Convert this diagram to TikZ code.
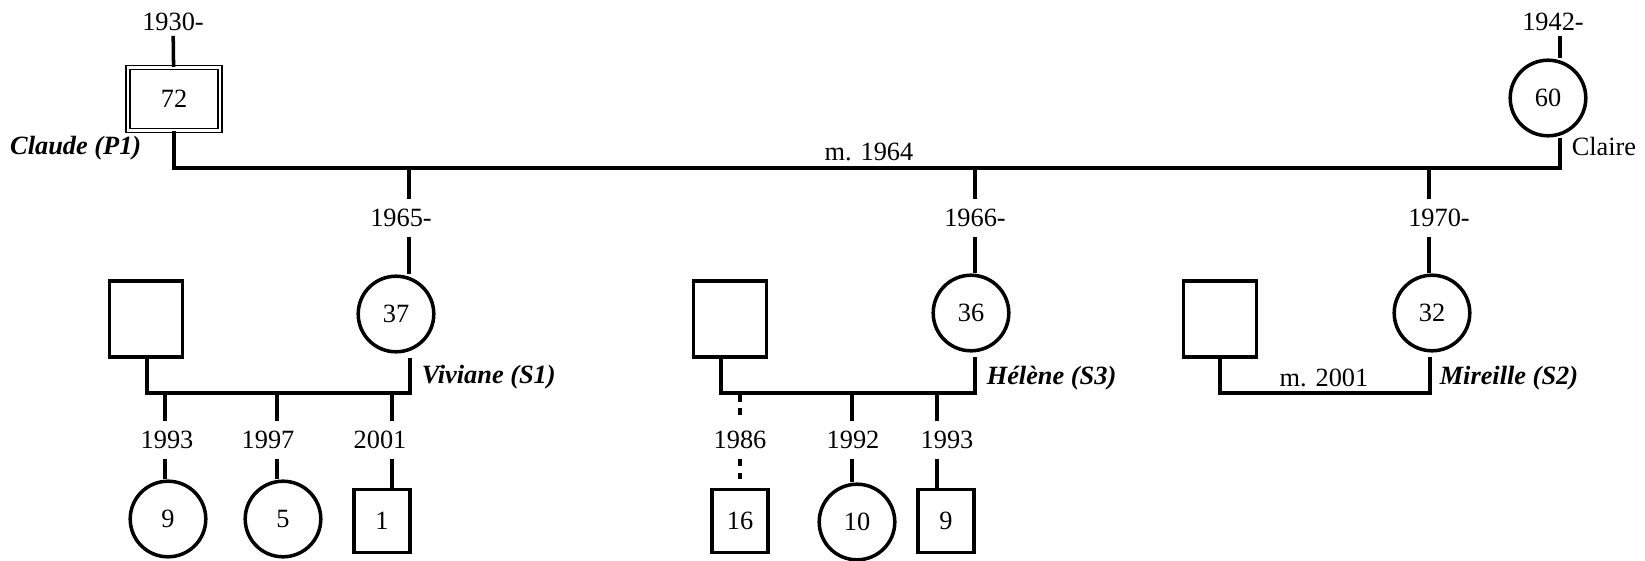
\documentclass[tikz,border=0pt]{standalone}
\usepackage{fontspec}
\setmainfont{Liberation Serif}
\usetikzlibrary{positioning}

\begin{document}
\begin{tikzpicture}[x=0.016cm, y=-0.016cm, line width=1.6pt,
  every node/.style={font=\fontsize{12}{14}\selectfont},
  female/.style={draw, circle, minimum size=1.21cm, inner sep=0pt},
  male/.style={draw, rectangle, minimum width=1.17cm, minimum height=1.22cm, inner sep=0pt},
  boy/.style={draw, rectangle, minimum width=0.89cm, minimum height=1.01cm, inner sep=0pt},
  yr/.style={inner sep=4pt},
  who/.style={font=\fontsize{12}{14}\selectfont\bfseries\itshape, inner sep=0pt}]
\useasboundingbox (0,0) rectangle (1645,560);
% first generation: Claude and Claire
\node[draw, double, double distance=1.2pt, line width=0.6pt, minimum width=1.47cm, minimum height=1.01cm] (claude) at (174,99) {72};
\node[female] (claire) at (1548,98) {60};
\node[inner sep=1.5pt] (b1930) at (173,22) {1930-};
\node[inner sep=1.5pt] (b1942) at (1553,22) {1942-};
\node[who, anchor=east] (nclaude) at (143,148) {Claude (P1)};
\node[anchor=west, inner sep=0pt] (nclaire) at (1570,146) {Claire};
\node (m1964) at (869,152) {m. 1964};
\coordinate (pl) at (174,168);
\coordinate (pr) at (1560,168);
\draw (b1930) -- (claude);
\draw (b1942.south -| pr) -- (claire.north -| pr);
\draw (claude.south) -- (pl) -- (pr) -- (claire.south -| pr);
% second generation: the three daughters
\node[female] (viviane) at (396,314) {37};
\node[female] (helene) at (971,313) {36};
\node[female] (mireille) at (1432,313) {32};
\node[yr] (b1965) at (401,218) {1965-};
\node[yr] (b1966) at (975,218) {1966-};
\node[yr] (b1970) at (1439,218) {1970-};
\foreach \b/\k/\x in {b1965/viviane/409, b1966/helene/975, b1970/mireille/1429}{
  \draw (\x,168) -- (\b.north -| \x,0);
  \draw (\b.south -| \x,0) -- (\k.north -| \x,0);
}
% their husbands
\node[male] (hv) at (146,319) {};
\node[male] (hh) at (730,319) {};
\node[male] (hm) at (1220,319) {};
\coordinate (fvl) at (147,393);
\coordinate (fvr) at (410,393);
\coordinate (fhl) at (721,393);
\coordinate (fhr) at (975,393);
\coordinate (fml) at (1220,393);
\coordinate (fmr) at (1430,393);
\draw[shorten >=2pt] (hv.south -| fvl) -- (fvl) -- (fvr) -- (viviane.south -| fvr);
\draw[shorten >=2pt] (hh.south -| fhl) -- (fhl) -- (fhr) -- (helene.south -| fhr);
\draw[shorten >=2pt] (hm.south -| fml) -- (fml) -- (fmr) -- (mireille.south -| fmr);
\node[who, anchor=west] (nviviane) at (420,377) {Viviane (S1)};
\node[who, anchor=west] (nhelene) at (985,378) {Hélène (S3)};
\node[who, anchor=west] (nmireille) at (1438,378) {Mireille (S2)};
\node (m2001) at (1324,378) {m. 2001};
% third generation
\node[female] (k9) at (168,519) {9};
\node[female] (k5) at (283,519) {5};
\node[boy] (k1) at (382,521) {1};
\node[boy] (k16) at (740,521) {16};
\node[female] (k10) at (857,522) {10};
\node[boy] (k9b) at (946,521) {9};
\node[yr] (b1993a) at (167,440) {1993};
\node[yr] (b1997) at (268,440) {1997};
\node[yr] (b2001) at (380,440) {2001};
\node[yr] (b1986) at (740,440) {1986};
\node[yr] (b1992) at (853,440) {1992};
\node[yr] (b1993b) at (947,440) {1993};
\foreach \b/\k/\x in {b1993a/k9/165, b1997/k5/277, b2001/k1/392, b1992/k10/852, b1993b/k9b/937}{
  \draw (\x,393) -- (\b.north -| \x,0);
  \draw (\b.south -| \x,0) -- (\k.north -| \x,0);
}
\draw[dash pattern=on 3pt off 3pt] (740,395) -- (b1986.north -| 740,0);
\draw[dash pattern=on 3pt off 3pt, shorten >=3pt] (b1986.south -| 740,0) -- (k16.north -| 740,0);
\end{tikzpicture}
\end{document}
